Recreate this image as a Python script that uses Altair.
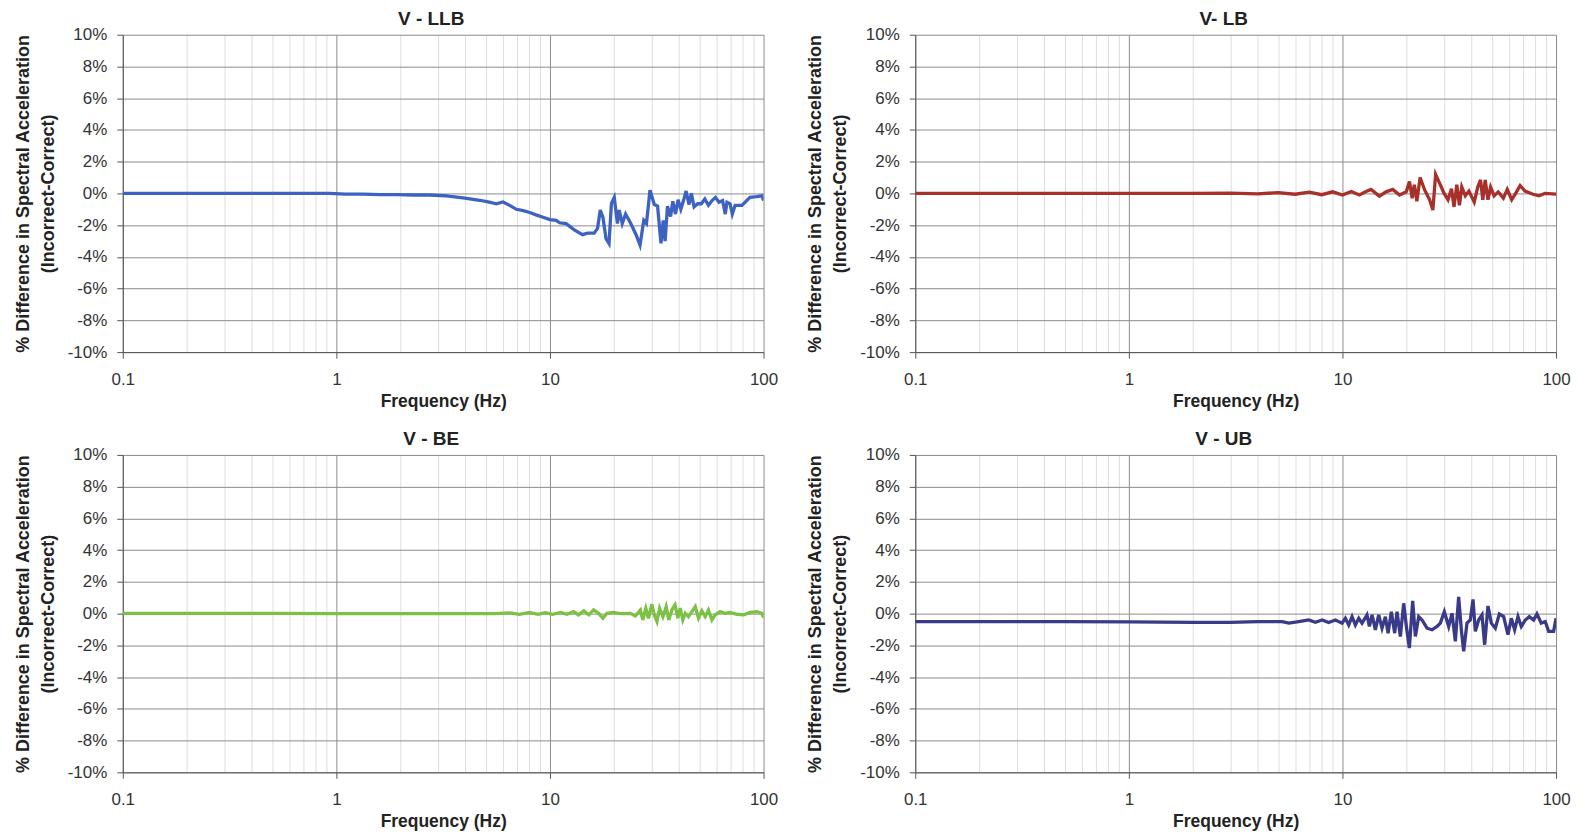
import altair as alt
import pandas as pd

FONT = "Liberation Sans"

x_ticks = [0.1, 0.2, 0.3, 0.4, 0.5, 0.6, 0.7, 0.8, 0.9,
           1, 2, 3, 4, 5, 6, 7, 8, 9,
           10, 20, 30, 40, 50, 60, 70, 80, 90, 100]
x_major = [0.1, 1, 10, 100]
y_ticks = [-10, -8, -6, -4, -2, 0, 2, 4, 6, 8, 10]

titles = ["V - LLB", "V- LB", "V - BE", "V - UB"]
colors = ["#3d62c2", "#a8302a", "#7cc045", "#3a3a8a"]

llb_freq = [0.1, 0.2, 0.4, 0.7, 0.93, 1.1, 1.34, 1.6, 1.91, 2.3,
            2.74, 3.27, 3.92, 4.69, 5.2, 5.61, 6.03, 6.48, 6.96, 7.5,
            8.04, 8.6, 9.28, 10.0, 10.7, 11.1, 11.9, 13.0, 14.2, 15.0,
            16.1, 16.7, 17.2, 17.7, 18.3, 18.9, 19.4, 20.0, 20.7, 21.1,
            21.8, 22.6, 23.9, 25.3, 26.4, 27.5, 28.3, 29.4, 30.8, 31.9,
            33.1, 33.9, 34.6, 35.5, 36.7, 37.6, 38.7, 39.8, 41.0, 42.4,
            43.4, 44.8, 45.9, 47.3, 49.1, 51.1, 53.1, 55.2, 57.4, 59.6,
            61.8, 64.3, 66.2, 67.4, 69.7, 71.4, 73.6, 79.2, 86.4, 92.7,
            98.3, 100]
llb_val = [0, 0, 0, 0, 0, -0.05, -0.05, -0.08, -0.08, -0.1,
           -0.1, -0.15, -0.28, -0.43, -0.55, -0.65, -0.54, -0.75, -1.0, -1.08,
           -1.2, -1.35, -1.5, -1.65, -1.7, -1.85, -1.9, -2.3, -2.6, -2.5,
           -2.5, -2.2, -1.05, -1.5, -2.85, -3.15, -0.63, -0.25, -1.9, -1.05,
           -1.9, -1.3, -1.9, -2.6, -3.25, -1.7, -1.9, 0.2, -0.7, -0.8,
           -3.15, -1.7, -3.0, -0.8, -1.45, -0.5, -1.3, -0.4, -1.0, -0.35,
           0.15, -0.7, 0.0, -0.85, -0.65, -0.65, -0.35, -0.75, -0.45, -0.25,
           -0.55, -0.45, -1.3, -0.55, -0.65, -1.3, -0.75, -0.75, -0.25, -0.2,
           -0.15, -0.45]

lb_freq = [0.1, 0.5, 1, 2, 3, 4, 5, 6, 7, 8,
           9, 10, 11, 12, 12.9, 13.6, 14.9, 16, 17.2, 18.5,
           19.9, 20.6, 21.2, 21.7, 22.3, 23.1, 24.2, 25.6, 26.5, 27.3,
           28.5, 29.8, 31.2, 32.4, 33.3, 34.3, 35.3, 36.2, 37.6, 39.1,
           41.4, 43.0, 44.3, 45.4, 46.6, 48.0, 49.4, 51.3, 53.6, 56.7,
           59.1, 62.0, 65.0, 67.9, 71.6, 78.0, 83.1, 88.7, 100]
lb_val = [0, 0, 0, 0, 0.02, -0.03, 0.05, -0.05, 0.08, -0.08,
          0.1, -0.1, 0.12, -0.1, 0.12, 0.25, -0.17, 0.1, 0.25, -0.1,
          0.1, 0.75, -0.3, 0.55, -0.5, 1.0, 0.25, -0.4, -1.05, 1.2,
          0.65, 0.05, -0.4, 0.3, -0.85, 0.55, -0.75, 0.4, -0.15, 0.15,
          -0.55, 0.4, 0.85, -0.4, 0.85, -0.4, 0.4, -0.15, 0.1, -0.3,
          0.25, -0.4, 0.05, 0.5, 0.15, -0.05, -0.15, 0, -0.05]

be_freq = [0.1, 0.5, 1, 2, 4, 5.5, 6.5, 7.2, 8, 8.8, 9.5, 10.3,
           11.2, 12.0, 12.9, 13.6, 14.4, 15.2, 16.0, 16.9, 17.7, 18.5,
           19.8, 21.3, 23.8, 25.1, 26.5, 27.2, 28.1, 28.9, 30.0, 30.8,
           31.7, 32.6, 33.8, 35.0, 36.0, 37.2, 38.5, 39.7, 40.7, 41.9,
           43.0, 44.5, 46.2, 47.9, 49.6, 51.4, 53.3, 55.2, 57.3, 59.3,
           62.6, 66.1, 69.8, 75.0, 80.6, 86.5, 92.9, 98.1, 100]
be_val = [0.02, 0.02, 0.0, 0.0, 0.0, 0.0, 0.05, -0.05, 0.08, -0.05, 0.06, -0.05,
          0.08, -0.04, 0.13, -0.08, 0.17, -0.08, 0.23, 0.02, -0.29, 0.02,
          0.08, 0.0, 0.02, -0.15, 0.23, -0.4, 0.34, -0.29, 0.59, -0.08,
          -0.5, 0.34, -0.19, 0.44, -0.4, 0.23, 0.55, -0.29, 0.34, -0.4,
          0.02, -0.19, 0.13, 0.44, -0.29, 0.17, -0.19, 0.23, -0.4, -0.08,
          0.13, 0.02, 0.08, -0.04, -0.08, 0.08, 0.13, 0.02, -0.25]

ub_freq = [0.1, 0.5, 1, 2, 3, 4,
           5.22, 5.61, 6.24, 6.95, 7.47, 8.03, 8.62, 9.27, 9.96, 10.32,
           10.70, 11.09, 11.49, 11.92, 12.35, 13.03, 13.37, 13.76, 14.26, 14.78,
           15.32, 15.88, 16.35, 16.94, 17.56, 18.01, 18.67, 19.35, 19.92, 20.57,
           21.32, 21.95, 22.75, 23.58, 24.89, 26.26, 27.72, 28.73, 29.99, 31.43,
           32.58, 33.77, 35.00, 36.03, 36.94, 38.29, 39.69, 40.85, 41.89, 43.42,
           45.01, 46.32, 48.01, 49.77, 51.96, 54.25, 56.84, 59.55, 61.73, 63.99,
           66.33, 68.75, 71.78, 74.95, 78.52, 81.38, 85.27, 89.03, 92.29, 97.41,
           100]
ub_val = [-0.5, -0.5, -0.52, -0.55, -0.55, -0.5,
          -0.50, -0.60, -0.50, -0.40, -0.54, -0.40, -0.56, -0.40, -0.60, -0.29,
          -0.71, -0.19, -0.71, -0.29, -0.60, -0.08, -0.81, -0.08, -1.02, -0.08,
          -0.92, -0.19, -1.23, 0.12, -1.23, 0.12, -1.44, 0.65, -0.81, -2.17,
          0.81, -1.44, -0.19, -0.40, -0.92, -1.02, -0.81, -0.60, 0.12, -0.81,
          0.02, -1.75, 1.06, -1.02, -2.38, -0.60, -0.40, 0.90, -1.12, -0.40,
          -0.08, -1.96, 0.48, -0.60, -0.92, -0.02, -0.19, -1.33, -0.29, -1.02,
          -0.19, -0.81, -0.40, -0.19, -0.40, -0.02, -0.60, -0.50, -1.12, -1.12,
          -0.29]

MAJOR_TEST = "indexof([0.1, 1, 10, 100], datum.value) >= 0"


def panel(freq, val, color, title):
    df = pd.DataFrame({"f": freq, "v": val})
    x_axis = alt.Axis(
        values=x_ticks,
        labelExpr=f"{MAJOR_TEST} ? format(datum.value, '~g') : ''",
        labelOverlap=False,
        labelFlush=False,
        gridColor={"condition": {"test": MAJOR_TEST, "value": "#8c8c8c"}, "value": "#dedede"},
        tickColor={"condition": {"test": MAJOR_TEST, "value": "#555555"}, "value": "transparent"},
        tickSize=6,
        domainColor="#555555",
        labelFont=FONT, labelFontSize=17, labelColor="#333333", labelPadding=13,
        titleFont=FONT, titleFontSize=17.5, titleFontWeight="bold", titleColor="#222222",
        titlePadding=5,
    )
    y_axis = alt.Axis(
        values=y_ticks,
        labelExpr="datum.value + '%'",
        gridColor="#8c8c8c",
        tickColor="#555555",
        tickSize=6,
        domainColor="#555555",
        labelFont=FONT, labelFontSize=17, labelColor="#333333", labelPadding=10,
        titleFont=FONT, titleFontSize=18, titleFontWeight="bold", titleColor="#222222",
        titlePadding=10, titleLineHeight=25,
    )
    return (
        alt.Chart(df)
        .mark_line(color=color, strokeWidth=3.3, clip=True)
        .encode(
            x=alt.X("f:Q", title="Frequency (Hz)",
                    scale=alt.Scale(type="log", domain=[0.1, 100], nice=False), axis=x_axis),
            y=alt.Y("v:Q", title=["% Difference in Spectral Acceleration", "(Incorrect-Correct)"],
                    scale=alt.Scale(domain=[-10, 10], nice=False), axis=y_axis),
        )
        .properties(
            width=642, height=318,
            title=alt.TitleParams(title, font=FONT, fontSize=19, fontWeight="bold",
                                  color="#222222", anchor="middle", frame="group",
                                  offset=-3, dx=-12),
        )
    )


p1 = panel(llb_freq, llb_val, colors[0], titles[0])
p2 = panel(lb_freq, lb_val, colors[1], titles[1])
p3 = panel(be_freq, be_val, colors[2], titles[2])
p4 = panel(ub_freq, ub_val, colors[3], titles[3])

chart = (
    alt.vconcat(
        alt.hconcat(p1, p2, spacing=28),
        alt.hconcat(p3, p4, spacing=28),
        spacing=20,
    )
    .properties(padding={"left": 14, "top": 9, "right": 10, "bottom": 4}, background="white")
    .configure_view(stroke=None)
)

chart.save("out.html", embed_options={"renderer": "svg", "actions": False})
